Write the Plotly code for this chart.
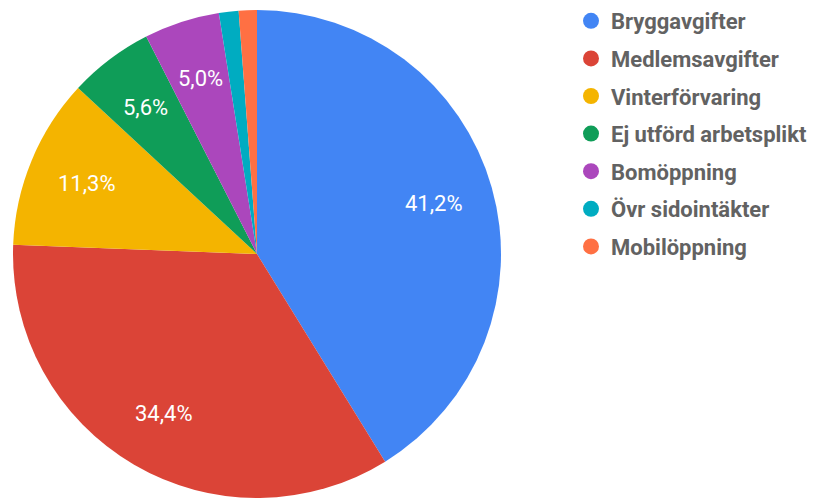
import math
import plotly.graph_objects as go

categories = ["Bryggavgifter", "Medlemsavgifter", "Vinterförvaring", "Ej utförd arbetsplikt",
              "Bomöppning", "Övr sidointäkter", "Mobilöppning"]
values = [41.2, 34.4, 11.3, 5.6, 5.0, 1.3, 1.2]
colors = ["#4285f4", "#db4437", "#f4b400", "#0f9d58", "#ab47bc", "#00acc1", "#ff7043"]
min_label_pct = 2.0

W, H = 817, 500
dom_x = [12 / W, 502 / W]
dom_y = [2 / H, 490 / H]

fig = go.Figure()
fig.add_trace(go.Pie(
    labels=categories, values=values, textinfo="none",
    marker=dict(colors=colors, line=dict(color="white", width=0)),
    sort=False, direction="clockwise", rotation=0,
    showlegend=False, hoverinfo="label+percent",
    domain=dict(x=dom_x, y=dom_y),
))

# percentage labels placed at ~0.755 of the radius, mid-angle of each slice
total = sum(values)
cx_px = (dom_x[0] + dom_x[1]) / 2 * W
cy_px = (dom_y[0] + dom_y[1]) / 2 * H
R = min((dom_x[1] - dom_x[0]) * W, (dom_y[1] - dom_y[0]) * H) / 2
cum = 0.0
for v in values:
    pct = v / total * 100
    mid = (cum + v / 2) / total * 2 * math.pi
    cum += v
    if pct < min_label_pct:
        continue
    r = 0.755 * R
    px = cx_px + r * math.sin(mid)
    py = cy_px + r * math.cos(mid)
    fig.add_annotation(
        x=px / W, y=py / H, xref="paper", yref="paper", showarrow=False,
        text=f"{pct:.1f}%".replace(".", ","),
        font=dict(family="Roboto", size=22, color="white"),
        xanchor="center", yanchor="middle",
    )

for i, (c, col) in enumerate(zip(categories, colors)):
    fig.add_trace(go.Scatter(
        x=[None], y=[None], mode="markers", name=c,
        marker=dict(symbol="circle", size=16, color=col),
        legendgroup=f"g{i}", showlegend=True,
    ))

fig.update_layout(
    width=W, height=H,
    margin=dict(l=0, r=0, t=0, b=0),
    paper_bgcolor="white", plot_bgcolor="white",
    xaxis=dict(visible=False), yaxis=dict(visible=False),
    legend=dict(
        x=571 / W, y=1 - 0 / H, xanchor="left", yanchor="top",
        font=dict(family="Roboto", size=22, color="#626262", weight="bold"),
        tracegroupgap=6, itemsizing="trace", bgcolor="rgba(0,0,0,0)",
    ),
)
fig.write_html("out.html")
